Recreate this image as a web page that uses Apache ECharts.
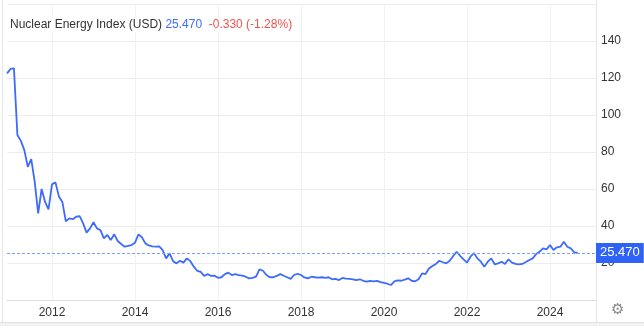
<!DOCTYPE html>
<html>
<head>
<meta charset="utf-8">
<script src="https://cdn.jsdelivr.net/npm/echarts@6/dist/echarts.min.js"></script>
<style>
html,body{margin:0;padding:0;background:#fff;}
#c{width:644px;height:326px;}
</style>
</head>
<body>
<div id="c"></div>
<script>
// Monthly closes, starting Dec 2010
const startYear = 2010, startMonth = 11; // December (0-based)
const values = [
  122.5,124.9,125.2,89.2,86,81,72,76.2,64,46.8,60,53,
  49,62.5,63.6,56,53,42.5,44.1,43.7,45,45.4,41.4,36.4,
  38.7,42,38.7,37.8,33.3,35.2,32.4,35.5,31.9,30.3,28.8,29.2,
  29.7,31,35.5,33.9,30.6,29.5,29,28.8,29,27,22.5,25.2,
  21,19.8,21.2,20.2,22.5,21,18,15.8,15.2,13,14,13,
  13.1,12,12.3,14,14.8,13.5,14,13.5,13.2,12.6,11.7,12,
  12.6,16.6,15.8,13.5,12.3,12.3,13,14,13.1,12.3,11.4,13.5,
  14.2,13.5,12.2,11.7,12.6,12.3,12.1,12.3,11.9,12.3,11.2,11.4,
  10.8,11.9,11.5,11.4,11.2,10.8,11.2,10.4,9.9,10.3,10.1,10.3,
  9.7,9.2,8.8,8.1,10.1,10.6,10.4,11,11.7,10.4,10.1,11.2,
  14.4,14,17,18.4,19.5,21.2,20.4,19.8,21.2,23.8,26.1,23.9,
  22,20.2,23.4,25.4,22.5,20.7,18,20.7,22.5,19.3,19.8,20.7,
  19.5,22,20.2,19.5,19.3,19.5,20.5,21.6,22.5,24.9,26.1,27.9,
  27.4,29.7,27,28.5,28.8,31.5,28.8,27.9,25.8,25.47
];
const yearTicks = [2012,2014,2016,2018,2020,2022,2024];
const yTicks = [20,40,60,80,100,120,140];
const lastValue = 25.470;
const change = "-0.330 (-1.28%)";
const titleText = "Nuclear Energy Index (USD)";

const points = values.map((v,i)=>[startYear + (startMonth + i)/12, v]);

const chart = echarts.init(document.getElementById('c'), null, {renderer:'canvas'});
const font = 'Arial, "Liberation Sans", sans-serif';
chart.setOption({
  animation:false,
  backgroundColor:'#fff',
  title:{
    left:6, top:18,
    padding:[1,4,1,4],
    backgroundColor:'#fff',
    text:'{a|'+titleText+'} {b|'+lastValue.toFixed(3)+'}  {c|'+change+'}',
    textStyle:{
      fontSize:12, fontWeight:'normal', fontFamily:font,
      rich:{
        a:{color:'#333', fontSize:12, fontFamily:font},
        b:{color:'#3d6bfb', fontSize:12, fontFamily:font},
        c:{color:'#f0524f', fontSize:12, fontFamily:font}
      }
    }
  },
  grid:{left:7, right:48, top:4, bottom:26, containLabel:false},
  xAxis:{
    type:'value',
    min:2010.916, max:2025.108,
    axisLine:{show:true, lineStyle:{color:'#dcdcdc'}},
    axisTick:{show:false, customValues:yearTicks},
    axisLabel:{customValues:yearTicks, color:'#333', fontSize:12, fontFamily:font, margin:7,
      formatter:v=>String(Math.round(v))},
    splitLine:{show:true, lineStyle:{color:'#eef2f8', width:1}}
  },
  yAxis:{
    type:'value', position:'right',
    min:0, max:160, interval:20,
    axisLine:{show:false}, axisTick:{show:false},
    axisLabel:{color:'#333', fontSize:12, fontFamily:font, margin:5,
      formatter:v=> yTicks.indexOf(v)>=0 ? String(v) : ''},
    splitLine:{lineStyle:{color:'#ededed', width:1}}
  },
  series:[{
    type:'line',
    data:points,
    showSymbol:false,
    lineStyle:{color:'#3d6bfb', width:1.8},
    itemStyle:{color:'#3d6bfb'},
    markLine:{
      silent:true, symbol:'none',
      lineStyle:{color:'#7c9efc', type:[3,2], width:1, opacity:1},
      emphasis:{disabled:true},
      label:{
        show:true, position:'end', distance:0,
        formatter:()=>lastValue.toFixed(3),
        color:'#fff', backgroundColor:'#2f62f6',
        fontSize:13, fontFamily:font, padding:[3,4,2,4], lineHeight:15
      },
      data:[{yAxis:lastValue}]
    }
  }],
  graphic:[
    {type:'line', shape:{x1:596.5,y1:0,x2:596.5,y2:322}, style:{stroke:'#e6e6e6', lineWidth:1}, silent:true},
    {type:'line', shape:{x1:2.5,y1:0,x2:2.5,y2:322}, style:{stroke:'#e6e6e6', lineWidth:1}, silent:true},
    {type:'rect', shape:{x:0,y:322,width:644,height:4}, style:{fill:'#f2f2f2'}, silent:true},
    {type:'line', shape:{x1:0,y1:322.5,x2:644,y2:322.5}, style:{stroke:'#e2e2e2', lineWidth:1}, silent:true},
    {type:'text', left:611, top:303, style:{text:'\u2699', fill:'#888', font:'15px "DejaVu Sans"'}, silent:true}
  ]
});
</script>
</body>
</html>
